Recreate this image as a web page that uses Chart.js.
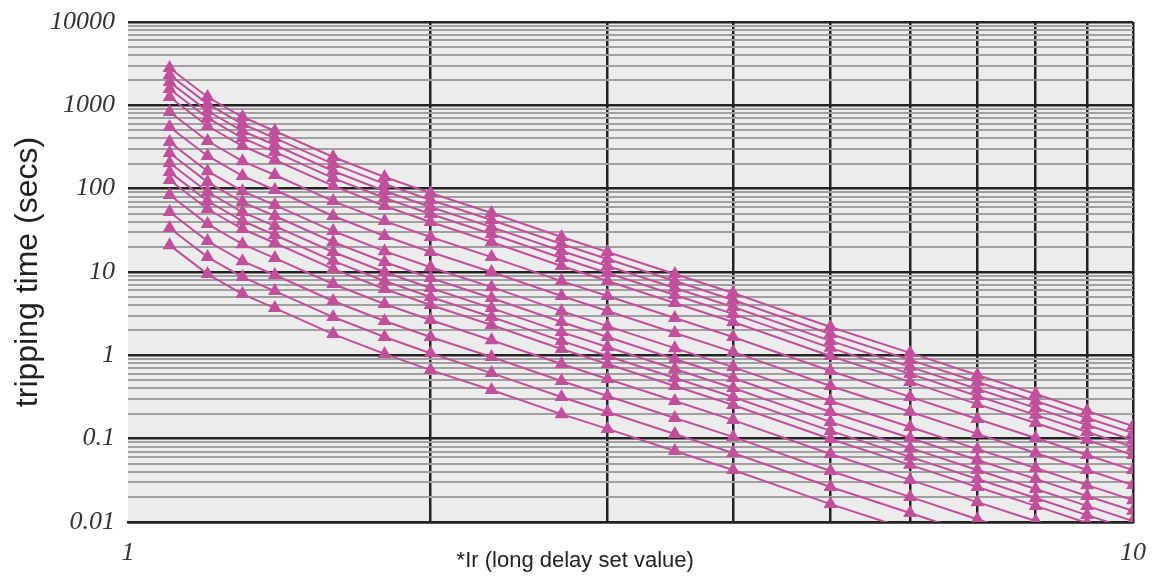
<!DOCTYPE html>
<html>
<head>
<meta charset="utf-8">
<script src="https://cdn.jsdelivr.net/npm/chart.js@4"></script>
<style>
  html, body { margin: 0; padding: 0; background: #fff; }
  #wrap { width: 1164px; height: 576px; }
</style>
</head>
<body>
<div id="wrap"><canvas id="tripChart" width="1164" height="576"></canvas></div>
<script>
const xValues = [1.1, 1.2, 1.3, 1.4, 1.6, 1.8, 2, 2.3, 2.7, 3, 3.5, 4, 5, 6, 7, 8, 9, 10];

const curve1 = [2805, 1259, 724, 492, 240, 138, 88.7, 51, 26.3, 17.4, 9.46, 5.6, 2.19, 1.07, 0.58, 0.344, 0.215, 0.142];
const curve2 = [2310, 1040, 597, 405, 198, 114, 73.1, 42.0, 21.7, 14.3, 7.80, 4.61, 1.80, 0.882, 0.478, 0.283, 0.177, 0.117];
const curve3 = [1900, 855, 492, 334, 163, 93.7, 60.2, 34.6, 17.9, 11.8, 6.42, 3.80, 1.49, 0.727, 0.394, 0.234, 0.146, 0.0964];
const curve4 = [1570, 705, 405, 276, 134, 77.3, 49.7, 28.6, 14.7, 9.74, 5.30, 3.14, 1.23, 0.599, 0.325, 0.193, 0.120, 0.0795];
const curve5 = [1260, 565, 325, 221, 108, 62.0, 39.8, 22.9, 11.8, 7.81, 4.25, 2.51, 0.983, 0.480, 0.260, 0.154, 0.0965, 0.0638];
const curve6 = [830, 373, 214, 146, 71.0, 40.8, 26.3, 15.1, 7.78, 5.15, 2.80, 1.66, 0.648, 0.317, 0.172, 0.102, 0.0636, 0.0420];
const curve7 = [550, 247, 142, 96.4, 47.0, 27.0, 17.4, 10.0, 5.15, 3.41, 1.85, 1.10, 0.429, 0.210, 0.114, 0.0674, 0.0421, 0.0278];
const curve8 = [362, 162, 93.4, 63.5, 31.0, 17.8, 11.4, 6.58, 3.39, 2.24, 1.22, 0.722, 0.283, 0.138, 0.0748, 0.0444, 0.0277, 0.0183];
const curve9 = [268, 120, 69.1, 47.0, 22.9, 13.2, 8.47, 4.87, 2.51, 1.66, 0.903, 0.535, 0.209, 0.102, 0.0554, 0.0329, 0.0205, 0.0136];
const curve10 = [203, 91.2, 52.4, 35.6, 17.4, 9.99, 6.42, 3.69, 1.90, 1.26, 0.685, 0.405, 0.159, 0.0775, 0.0420, 0.0249, 0.0156, 0.0103];
const curve11 = [158, 71.1, 40.9, 27.8, 13.6, 7.80, 5.01, 2.88, 1.49, 0.983, 0.534, 0.316, 0.124, 0.0605, 0.0328, 0.0194, 0.0121, 0.0080];
const curve12 = [127, 57.0, 32.8, 22.3, 10.9, 6.25, 4.02, 2.31, 1.19, 0.788, 0.429, 0.254, 0.0992, 0.0485, 0.0263, 0.0156, 0.00974, 0.00643];
const curve13 = [83.9, 37.6, 21.6, 14.7, 7.18, 4.13, 2.65, 1.52, 0.786, 0.520, 0.283, 0.167, 0.0655, 0.0320, 0.0173, 0.0103, 0.00643, 0.00425];
const curve14 = [52.5, 23.5, 13.5, 9.20, 4.49, 2.58, 1.66, 0.954, 0.492, 0.325, 0.177, 0.105, 0.0410, 0.0200, 0.0108, 0.00643, 0.00402, 0.00266];
const curve15 = [33.7, 15.1, 8.69, 5.90, 2.88, 1.66, 1.06, 0.612, 0.316, 0.209, 0.114, 0.0672, 0.0263, 0.0128, 0.00696, 0.00413, 0.00258, 0.0017];
const curve16 = [21.0, 9.44, 5.43, 3.69, 1.80, 1.04, 0.665, 0.383, 0.197, 0.131, 0.0710, 0.0420, 0.0164, 0.00803, 0.00435, 0.00258, 0.00161, 0.00107];

const curves = [curve1, curve2, curve3, curve4, curve5, curve6, curve7, curve8,
  curve9, curve10, curve11, curve12, curve13, curve14, curve15, curve16];

const xTickValues = [1, 2, 3, 4, 5, 6, 7, 8, 9, 10];
const xTickLabels = { 1: '1', 10: '10' };
const yDecades = [0.01, 0.1, 1, 10, 100, 1000, 10000];
const yTickLabels = ['0.01', '0.1', '1', '10', '100', '1000', '10000'];
const xTitle = '*Ir (long delay set value)';

// minor ticks 1..9 in every decade, plus the top one
const yTickValues = [];
yDecades.slice(0, -1).forEach(d => {
  for (let m = 1; m <= 9; m++) yTickValues.push(Number((m * d).toPrecision(3)));
});
yTickValues.push(10000);

const pink = '#c24f9b';
const isDecade = v => Math.abs(Math.log10(v) - Math.round(Math.log10(v))) < 1e-6;

const plotBg = {
  id: 'plotBg',
  beforeDraw(chart) {
    const a = chart.chartArea;
    const c = chart.ctx;
    c.save();
    c.fillStyle = '#ececec';
    c.fillRect(a.left, a.top, a.right - a.left, a.bottom - a.top);
    c.restore();
  },
  // x title sits a bit left of centre, level with the tick labels
  afterDraw(chart) {
    const a = chart.chartArea;
    const c = chart.ctx;
    c.save();
    c.font = "22px 'Liberation Sans', Arial, sans-serif";
    c.fillStyle = '#222';
    c.textAlign = 'center';
    c.textBaseline = 'middle';
    c.fillText(xTitle, a.left + (a.right - a.left) * 0.445, a.bottom + 39);
    c.restore();
  }
};

const tickFont = { family: "'Liberation Serif', 'DejaVu Serif', serif", style: 'italic', size: 26 };

const ctx = document.getElementById('tripChart').getContext('2d');
const tripChart = new Chart(ctx, {
  type: 'line',
  data: {
    datasets: curves.map(c => ({
      data: c.map((y, i) => ({ x: xValues[i], y: y })),
      borderColor: pink,
      backgroundColor: pink,
      borderWidth: 2,
      tension: 0,
      fill: false,
      pointStyle: 'triangle',
      pointRadius: 8,
      pointBorderWidth: 0,
      pointBackgroundColor: pink
    }))
  },
  options: {
    responsive: false,
    animation: false,
    events: [],
    layout: { padding: { top: 0, right: 31, left: 0, bottom: 0 } },
    plugins: {
      legend: { display: false },
      tooltip: { enabled: false }
    },
    scales: {
      x: {
        type: 'logarithmic',
        min: 1,
        max: 10,
        afterBuildTicks: s => { s.ticks = xTickValues.map(v => ({ value: v })); },
        afterFit: s => { s.height = 54; },
        border: { display: true, color: '#222', width: 2.5 },
        grid: {
          drawTicks: false,
          color: c => (c.tick && c.tick.value === 1) ? 'rgba(0,0,0,0)' : '#222',
          lineWidth: 2.5
        },
        ticks: {
          autoSkip: false,
          maxRotation: 0,
          padding: 16,
          color: '#333',
          font: tickFont,
          callback: v => xTickLabels[v] || ''
        }
      },
      y: {
        type: 'logarithmic',
        min: 0.01,
        max: 10000,
        afterBuildTicks: s => { s.ticks = yTickValues.map(v => ({ value: v })); },
        afterFit: s => { s.width = 128; s.paddingTop = 22; },
        border: { display: false },
        grid: {
          drawTicks: false,
          color: c => (c.tick && isDecade(c.tick.value)) ? '#222' : '#a0a0a0',
          lineWidth: c => (c.tick && isDecade(c.tick.value)) ? 2.5 : 2
        },
        ticks: {
          autoSkip: false,
          padding: 13,
          color: '#333',
          font: tickFont,
          callback: v => {
            const i = yDecades.findIndex(d => Math.abs(d - v) / d < 1e-6);
            return i >= 0 ? yTickLabels[i] : '';
          }
        },
        title: {
          display: true,
          text: 'tripping time (secs)',
          color: '#222',
          font: { family: "'Liberation Sans', Arial, sans-serif", size: 32 },
          padding: { top: 9, bottom: 0 }
        }
      }
    }
  },
  plugins: [plotBg]
});
</script>
</body>
</html>
